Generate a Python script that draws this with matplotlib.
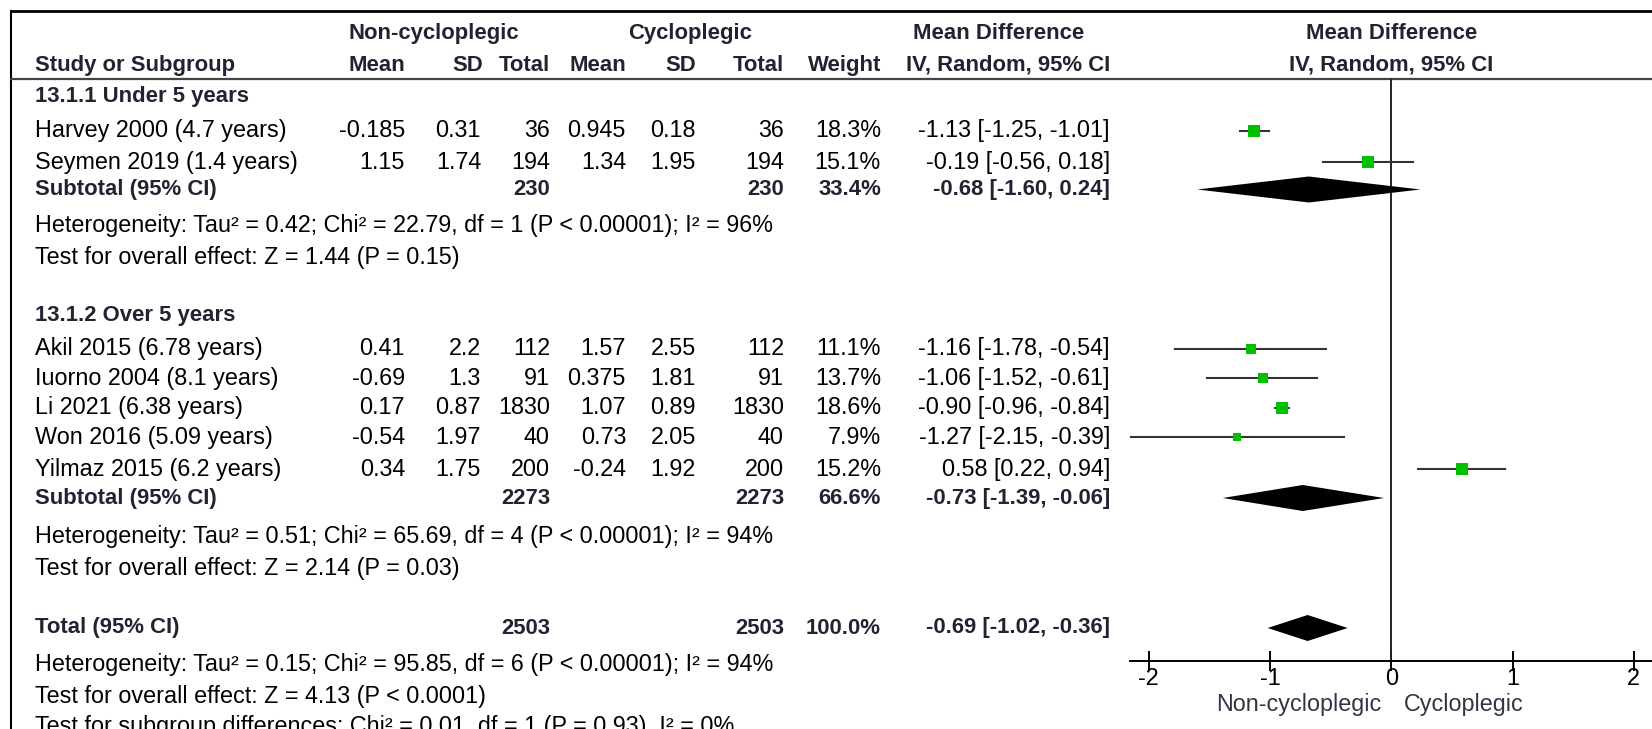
import matplotlib
matplotlib.use("Agg")
import matplotlib.pyplot as plt

# study data
studies = ["Harvey 2000 (4.7 years)", "Seymen 2019 (1.4 years)",
           "Akil 2015 (6.78 years)", "Iuorno 2004 (8.1 years)", "Li 2021 (6.38 years)",
           "Won 2016 (5.09 years)", "Yilmaz 2015 (6.2 years)"]
ncMean = [-0.185, 1.15, 0.41, -0.69, 0.17, -0.54, 0.34]
ncSD = [0.31, 1.74, 2.2, 1.3, 0.87, 1.97, 1.75]
ncTotal = [36, 194, 112, 91, 1830, 40, 200]
cMean = [0.945, 1.34, 1.57, 0.375, 1.07, 0.73, -0.24]
cSD = [0.18, 1.95, 2.55, 1.81, 0.89, 2.05, 1.92]
cTotal = [36, 194, 112, 91, 1830, 40, 200]
weights = [18.3, 15.1, 11.1, 13.7, 18.6, 7.9, 15.2]
md = [-1.13, -0.19, -1.16, -1.06, -0.90, -1.27, 0.58]
ciLow = [-1.25, -0.56, -1.78, -1.52, -0.96, -2.15, 0.22]
ciHigh = [-1.01, 0.18, -0.54, -0.61, -0.84, -0.39, 0.94]

# subgroup and overall results
subNames = ["Subtotal (95% CI)", "Subtotal (95% CI)", "Total (95% CI)"]
subTotals = [230, 2273, 2503]
subWeights = [33.4, 66.6, 100.0]
subMD = [-0.68, -0.73, -0.69]
subLow = [-1.60, -1.39, -1.02]
subHigh = [0.24, -0.06, -0.36]

groupTitles = ["13.1.1 Under 5 years", "13.1.2 Over 5 years"]
hetText = ["Heterogeneity: Tau\u00b2 = 0.42; Chi\u00b2 = 22.79, df = 1 (P < 0.00001); I\u00b2 = 96%",
           "Heterogeneity: Tau\u00b2 = 0.51; Chi\u00b2 = 65.69, df = 4 (P < 0.00001); I\u00b2 = 94%",
           "Heterogeneity: Tau\u00b2 = 0.15; Chi\u00b2 = 95.85, df = 6 (P < 0.00001); I\u00b2 = 94%"]
effectText = ["Test for overall effect: Z = 1.44 (P = 0.15)",
              "Test for overall effect: Z = 2.14 (P = 0.03)",
              "Test for overall effect: Z = 4.13 (P < 0.0001)"]
subgroupText = "Test for subgroup differences: Chi\u00b2 = 0.01, df = 1 (P = 0.93), I\u00b2 = 0%"
ticks = [-2, -1, 0, 1, 2]

# layout (pixel rows)
W, H = 1652, 729
studyRows = [130.5, 162, 348.6, 378, 407.6, 437, 469]
subRows = [189.5, 498, 628]
groupRows = [96, 315]
hetRows = [225, 537, 665]
effectRows = [257, 569, 696]
subgroupRow = 727
axisY = 661
headerLine = 79

FS = 16.8
FSB = 15.9
regular = dict(fontsize=FS, family="Liberation Sans", color="black")
bold = dict(fontsize=FSB, family="Liberation Sans", fontweight="bold", color="#222233")

fig = plt.figure(figsize=(W / 100, H / 100), dpi=100)
ax = fig.add_axes([0, 0, 1, 1])
ax.set_xlim(0, W)
ax.set_ylim(H, 0)
ax.axis("off")

plotLeft = 1130
fx = fig.add_axes([plotLeft / W, 0, 1 - plotLeft / W, 1])
fx.set_xlim(-2.155, 2.15)
fx.set_ylim(H, 0)
fx.patch.set_alpha(0)

# frame lines
ax.plot([11, W], [11, 11], color="black", lw=2)
ax.plot([11, 11], [11, H], color="black", lw=1.5)
ax.plot([11, W], [headerLine, headerLine], color="#444444", lw=1.6)

# table columns: (right edge x, values)
colLabel = 35
cols = [(405, ncMean), (481, ncSD), (550, ncTotal), (626, cMean), (696, cSD), (784, cTotal)]

# headers
hy1, hy2 = 33, 65
ax.text(434, hy1, "Non-cycloplegic", ha="center", va="center", **bold)
ax.text(690, hy1, "Cycloplegic", ha="center", va="center", **bold)
ax.text(999, hy1, "Mean Difference", ha="center", va="center", **bold)
ax.text(colLabel, hy2, "Study or Subgroup", ha="left", va="center", **bold)
for x, name in zip([405, 483, 550, 626, 696, 784, 881, 1110],
                   ["Mean", "SD", "Total", "Mean", "SD", "Total", "Weight", "IV, Random, 95% CI"]):
    ax.text(x, hy2, name, ha="right", va="center", **bold)
fx.text(0, hy1, "Mean Difference", ha="center", va="center", **bold)
fx.text(0, hy2, "IV, Random, 95% CI", ha="center", va="center", **bold)

# group titles and footnotes
for y, t in zip(groupRows, groupTitles):
    ax.text(colLabel, y, t, ha="left", va="center", **bold)
for y, t in zip(hetRows, hetText):
    ax.text(colLabel, y, t, ha="left", va="center", **regular)
for y, t in zip(effectRows, effectText):
    ax.text(colLabel, y, t, ha="left", va="center", **regular)
ax.text(colLabel, subgroupRow, subgroupText, ha="left", va="center", **regular)

# study rows
for i, y in enumerate(studyRows):
    ax.text(colLabel, y, studies[i], ha="left", va="center", **regular)
    for x, vals in cols:
        ax.text(x, y, str(vals[i]), ha="right", va="center", **regular)
    ax.text(881, y, f"{weights[i]:.1f}%", ha="right", va="center", **regular)
    ax.text(1110, y, f"{md[i]:.2f} [{ciLow[i]:.2f}, {ciHigh[i]:.2f}]", ha="right", va="center", **regular)
    fx.plot([ciLow[i], ciHigh[i]], [y, y], color="#333333", lw=1.5, zorder=3)
    fx.plot(md[i], y, marker="s", color="#00c000", markersize=2.1 * weights[i] ** 0.5,
            markeredgewidth=0, zorder=4)

# subtotal / total rows
for i, y in enumerate(subRows):
    ax.text(colLabel, y, subNames[i], ha="left", va="center", **bold)
    ax.text(550, y, str(subTotals[i]), ha="right", va="center", **bold)
    ax.text(784, y, str(subTotals[i]), ha="right", va="center", **bold)
    ax.text(881, y, f"{subWeights[i]:.1f}%", ha="right", va="center", **bold)
    ax.text(1110, y, f"{subMD[i]:.2f} [{subLow[i]:.2f}, {subHigh[i]:.2f}]", ha="right", va="center", **bold)
    fx.fill([subLow[i], subMD[i], subHigh[i], subMD[i]], [y, y - 13, y, y + 13],
            color="black", lw=0, zorder=4)

# forest axis
fx.vlines(0, headerLine, axisY, color="#222222", lw=1.4)
for s in ["top", "right", "left"]:
    fx.spines[s].set_visible(False)
fx.spines["bottom"].set_position(("data", axisY))
fx.spines["bottom"].set_linewidth(1.4)
fx.set_yticks([])
fx.set_xticks(ticks)
fx.set_xticklabels([str(t) for t in ticks], fontsize=FS, family="Liberation Sans")
fx.tick_params(axis="x", direction="inout", length=14, width=1.4, pad=-3)
fx.text(-0.08, 705, "Non-cycloplegic", ha="right", va="center", fontsize=FS,
        family="Liberation Sans", color="#333344")
fx.text(0.1, 705, "Cycloplegic", ha="left", va="center", fontsize=FS,
        family="Liberation Sans", color="#333344")

fig.savefig("out.png", dpi=100)
